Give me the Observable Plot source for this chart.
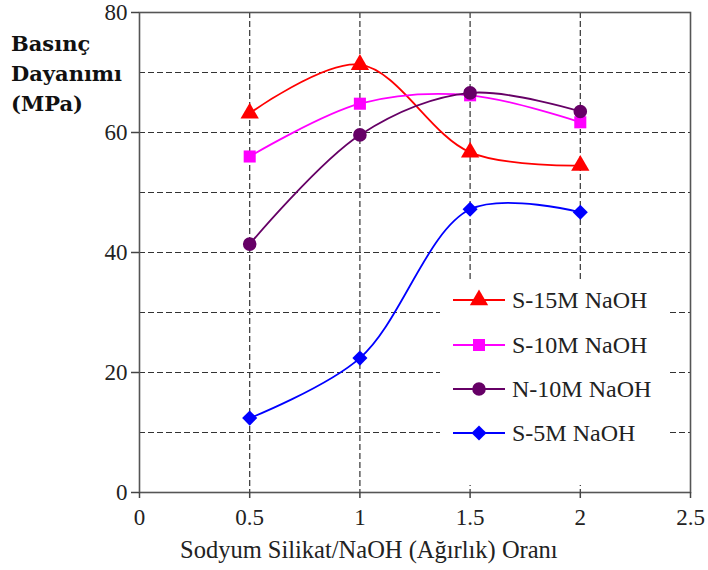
<!DOCTYPE html>
<html>
<head>
<meta charset="utf-8">
<script src="https://cdn.jsdelivr.net/npm/d3@7"></script>
<script src="https://cdn.jsdelivr.net/npm/@observablehq/plot@0.6"></script>
<style>
  html, body { margin: 0; padding: 0; background: #fff; }
  #wrap { position: relative; width: 708px; height: 570px; overflow: hidden; }
  #chart svg text { font-family: "Liberation Serif", "Times New Roman", serif; }
  #ylabel { position: absolute; left: 11px; top: 29px; font-family: "DejaVu Serif", serif; font-weight: bold; font-size: 21px; line-height: 30px; color: #111; }
  #xlabel { position: absolute; left: 180px; top: 536px; font-family: "Liberation Serif", serif; font-size: 24.5px; color: #222; white-space: nowrap; }
  #legend { position: absolute; left: 440px; top: 279px; width: 228px; height: 206px; background: #fff; }
  .lrow { position: absolute; left: 0; height: 26px; display: flex; align-items: center; }
  .lrow span { font-family: "Liberation Serif", serif; font-size: 24px; color: #222; margin-left: 6px; white-space: nowrap; }
</style>
</head>
<body>
<div id="wrap">
  <div id="chart"></div>
  <div id="ylabel">Basınç<br>Dayanımı<br>(MPa)</div>
  <div id="xlabel"></div>
  <div id="legend"></div>
</div>
<script>
const ratios = [0.5, 1, 1.5, 2];
const s15 = [63.2, 71.3, 56.7, 54.5];
const s10 = [56.0, 64.8, 66.2, 61.7];
const n10 = [41.4, 59.6, 66.6, 63.5];
const s5 = [12.4, 22.4, 47.2, 46.7];
const seriesNames = ["S-15M NaOH", "S-10M NaOH", "N-10M NaOH", "S-5M NaOH"];
const seriesValues = [s15, s10, n10, s5];
const colors = ["#ff0000", "#ff00ff", "#660066", "#0000ff"];
const symbols = ["triangle", "square", "circle", "diamond2"];
const xTicks = [0, 0.5, 1, 1.5, 2, 2.5];
const yTicks = [0, 20, 40, 60, 80];
const xGrid = [0.5, 1, 1.5, 2];
const yGrid = [10, 20, 30, 40, 50, 60, 70];
const xLabel = "Sodyum Silikat/NaOH (Ağırlık) Oranı";

const data = [];
seriesNames.forEach((name, i) => {
  ratios.forEach((r, j) => data.push({series: name, x: r, y: seriesValues[i][j]}));
});

const gridStyle = {stroke: "#333", strokeOpacity: 1, strokeDasharray: "6,3", strokeWidth: 1.2};

const chart = Plot.plot({
  width: 708,
  height: 570,
  marginLeft: 139,
  marginRight: 18,
  marginTop: 12,
  marginBottom: 78,
  style: {fontFamily: "Liberation Serif, serif", fontSize: "23px", color: "#222", background: "#fff"},
  x: {domain: [0, 2.5]},
  y: {domain: [0, 80]},
  color: {domain: seriesNames, range: colors},
  symbol: {domain: seriesNames, range: symbols},
  marks: [
    Plot.gridY(yGrid, gridStyle),
    Plot.gridX(xGrid, gridStyle),
    Plot.frame({stroke: "#555", strokeWidth: 1.6}),
    Plot.axisY({ticks: yTicks, tickSize: 8, tickPadding: 4, label: null, stroke: "#444", strokeWidth: 1.5, fontSize: 23}),
    Plot.axisX({ticks: xTicks, tickSize: 6, tickPadding: 10, tickFormat: d => String(d), stroke: "#444", strokeWidth: 1.5, fontSize: 23, label: null}),
    Plot.line(data, {x: "x", y: "y", z: "series", stroke: "series", strokeWidth: 1.8, curve: "catmull-rom"}),
    Plot.dot(data, {x: "x", y: "y", symbol: "series", fill: "series", stroke: "none", r: 6.8})
  ]
});
document.getElementById("chart").appendChild(chart);
document.getElementById("xlabel").textContent = xLabel;

// Legend
const legend = document.getElementById("legend");
const rowTops = [8, 53, 97, 141];
const symMap = {triangle: d3.symbolTriangle, square: d3.symbolSquare, circle: d3.symbolCircle, diamond2: d3.symbolDiamond2};
seriesNames.forEach((name, i) => {
  const row = document.createElement("div");
  row.className = "lrow";
  row.style.top = rowTops[i] + "px";
  const sw = d3.create("svg").attr("width", 66).attr("height", 26);
  sw.append("line").attr("x1", 13).attr("x2", 65).attr("y1", 13).attr("y2", 13)
    .attr("stroke", colors[i]).attr("stroke-width", 1.8);
  sw.append("path").attr("transform", "translate(39,13)")
    .attr("d", d3.symbol(symMap[symbols[i]], Math.PI * 6.8 * 6.8)())
    .attr("fill", colors[i]);
  row.appendChild(sw.node());
  const t = document.createElement("span");
  t.textContent = name;
  row.appendChild(t);
  legend.appendChild(row);
});
</script>
</body>
</html>
